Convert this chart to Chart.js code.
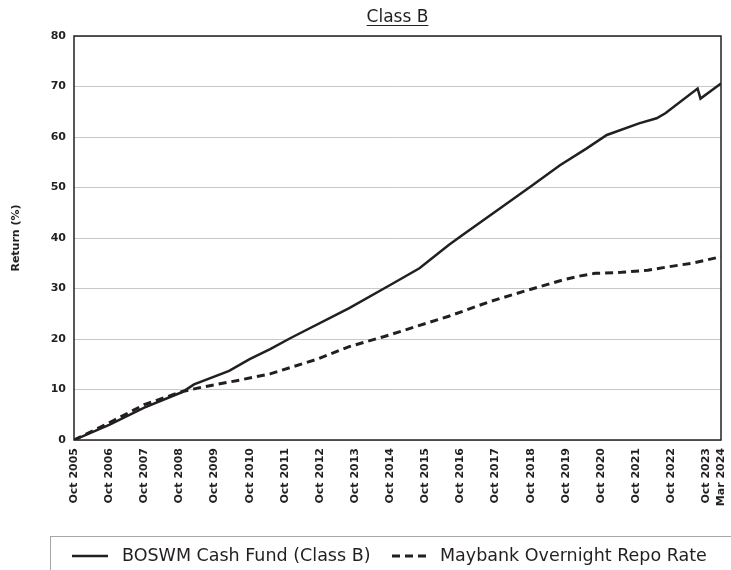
<!DOCTYPE html>
<html>
<head>
<meta charset="utf-8">
<script src="https://cdn.jsdelivr.net/npm/chart.js@4.4.1/dist/chart.umd.min.js"></script>
<style>
  body { margin: 0; background: #fff; }
  canvas { display: block; }
</style>
</head>
<body>
<canvas id="myChart" width="731" height="570"></canvas>
<script>
// data block (x = months since Oct 2005)
const fundMonths = [0, 12, 24, 37, 41, 53, 60, 67, 74, 92, 94, 108, 118, 128, 132, 147, 156, 166, 175, 182, 193, 199, 202, 213, 214, 221];
const fundReturns = [0, 3.0, 6.4, 9.5, 11.0, 13.7, 16.0, 18.0, 20.2, 25.5, 26.1, 30.7, 34.0, 38.6, 40.3, 46.5, 50.2, 54.4, 57.7, 60.4, 62.7, 63.7, 64.7, 69.6, 67.6, 70.6];

const repoMonths = [0, 13, 24, 37, 44, 56, 67, 83, 94, 106, 117, 128, 142, 154, 167, 173, 178, 187, 196, 202, 212, 221];
const repoReturns = [0, 3.7, 7.0, 9.6, 10.5, 11.8, 13.1, 16.0, 18.5, 20.5, 22.5, 24.5, 27.4, 29.5, 31.7, 32.5, 33.0, 33.2, 33.6, 34.2, 35.1, 36.3];

const tickMonths = [0, 12, 24, 36, 48, 60, 72, 84, 96, 108, 120, 132, 144, 156, 168, 180, 192, 204, 216, 221];
const tickLabels = ['Oct 2005', 'Oct 2006', 'Oct 2007', 'Oct 2008', 'Oct 2009', 'Oct 2010', 'Oct 2011',
  'Oct 2012', 'Oct 2013', 'Oct 2014', 'Oct 2015', 'Oct 2016', 'Oct 2017', 'Oct 2018', 'Oct 2019',
  'Oct 2020', 'Oct 2021', 'Oct 2022', 'Oct 2023', 'Mar 2024'];

const seriesNames = ['BOSWM Cash Fund (Class B)', 'Maybank Overnight Repo Rate'];

const ink = '#231f20';
const fontFamily = '"DejaVu Sans", sans-serif';

// frame round the plot + title + legend box
const decorations = {
    id: 'decorations',
    beforeDatasetsDraw(chart) {
        const { ctx, chartArea: { top, bottom, left, right } } = chart;
        ctx.save();
        ctx.strokeStyle = ink;
        ctx.lineWidth = 1.5;
        ctx.strokeRect(left, top, right - left, bottom - top);
        ctx.restore();
    },
    afterDraw(chart) {
        const { ctx, chartArea: { left, right } } = chart;
        ctx.save();

        // title
        const title = 'Class B';
        ctx.font = '17px ' + fontFamily;
        ctx.fillStyle = ink;
        ctx.textAlign = 'center';
        ctx.textBaseline = 'alphabetic';
        const cx = (left + right) / 2;
        ctx.fillText(title, cx, 22);
        const tw = ctx.measureText(title).width;
        ctx.strokeStyle = ink;
        ctx.lineWidth = 1;
        ctx.beginPath();
        ctx.moveTo(cx - tw / 2, 25.5);
        ctx.lineTo(cx + tw / 2, 25.5);
        ctx.stroke();

        // legend box
        ctx.strokeStyle = '#a6a6a6';
        ctx.lineWidth = 1;
        ctx.strokeRect(50.5, 536.5, 800, 100);

        const ly = 556;
        ctx.strokeStyle = ink;
        ctx.lineWidth = 2.5;
        ctx.beginPath();
        ctx.moveTo(72, ly);
        ctx.lineTo(108, ly);
        ctx.stroke();

        ctx.setLineDash([8, 5]);
        ctx.lineWidth = 3;
        ctx.beginPath();
        ctx.moveTo(392, ly);
        ctx.lineTo(429, ly);
        ctx.stroke();
        ctx.setLineDash([]);

        ctx.font = '17.5px ' + fontFamily;
        ctx.textAlign = 'left';
        ctx.textBaseline = 'middle';
        ctx.fillText(seriesNames[0], 122, ly);
        ctx.fillText(seriesNames[1], 440, ly);

        ctx.restore();
    }
};

const config = {
    type: 'line',
    data: {
        datasets: [{
            label: seriesNames[0],
            data: fundMonths.map((m, i) => ({ x: m, y: fundReturns[i] })),
            borderColor: ink,
            borderWidth: 2.5,
            pointRadius: 0,
            tension: 0
        }, {
            label: seriesNames[1],
            data: repoMonths.map((m, i) => ({ x: m, y: repoReturns[i] })),
            borderColor: ink,
            borderWidth: 3,
            borderDash: [8, 5],
            pointRadius: 0,
            tension: 0
        }]
    },
    options: {
        responsive: false,
        animation: false,
        devicePixelRatio: 1,
        layout: { padding: { top: 36, right: 10, bottom: 40, left: 0 } },
        plugins: {
            legend: { display: false },
            title: { display: false },
            tooltip: { enabled: false }
        },
        scales: {
            x: {
                type: 'linear',
                min: 0,
                max: 221,
                grid: { display: false, drawTicks: false },
                border: { display: false },
                afterBuildTicks: scale => {
                    scale.ticks = tickMonths.map(v => ({ value: v }));
                },
                afterFit: scale => {
                    scale.height = 90;
                    scale.paddingLeft = 0;
                    scale.paddingRight = 0;
                },
                ticks: {
                    autoSkip: false,
                    minRotation: 90,
                    maxRotation: 90,
                    padding: 8,
                    color: ink,
                    font: { family: fontFamily, size: 11, weight: 'bold' },
                    callback: (value, index) => tickLabels[index]
                }
            },
            y: {
                min: 0,
                max: 80,
                grid: { color: '#c8c8c8', lineWidth: 1, drawTicks: false },
                border: { display: false },
                afterFit: scale => { scale.width = 74; },
                ticks: {
                    stepSize: 10,
                    padding: 8,
                    color: ink,
                    font: { family: fontFamily, size: 11, weight: 'bold' }
                },
                title: {
                    display: true,
                    text: 'Return (%)',
                    color: ink,
                    padding: { top: 10, bottom: 0 },
                    font: { family: fontFamily, size: 11, weight: 'bold' }
                }
            }
        }
    },
    plugins: [decorations]
};

const ctx = document.getElementById('myChart');
const myChart = new Chart(ctx, config);
</script>
</body>
</html>
